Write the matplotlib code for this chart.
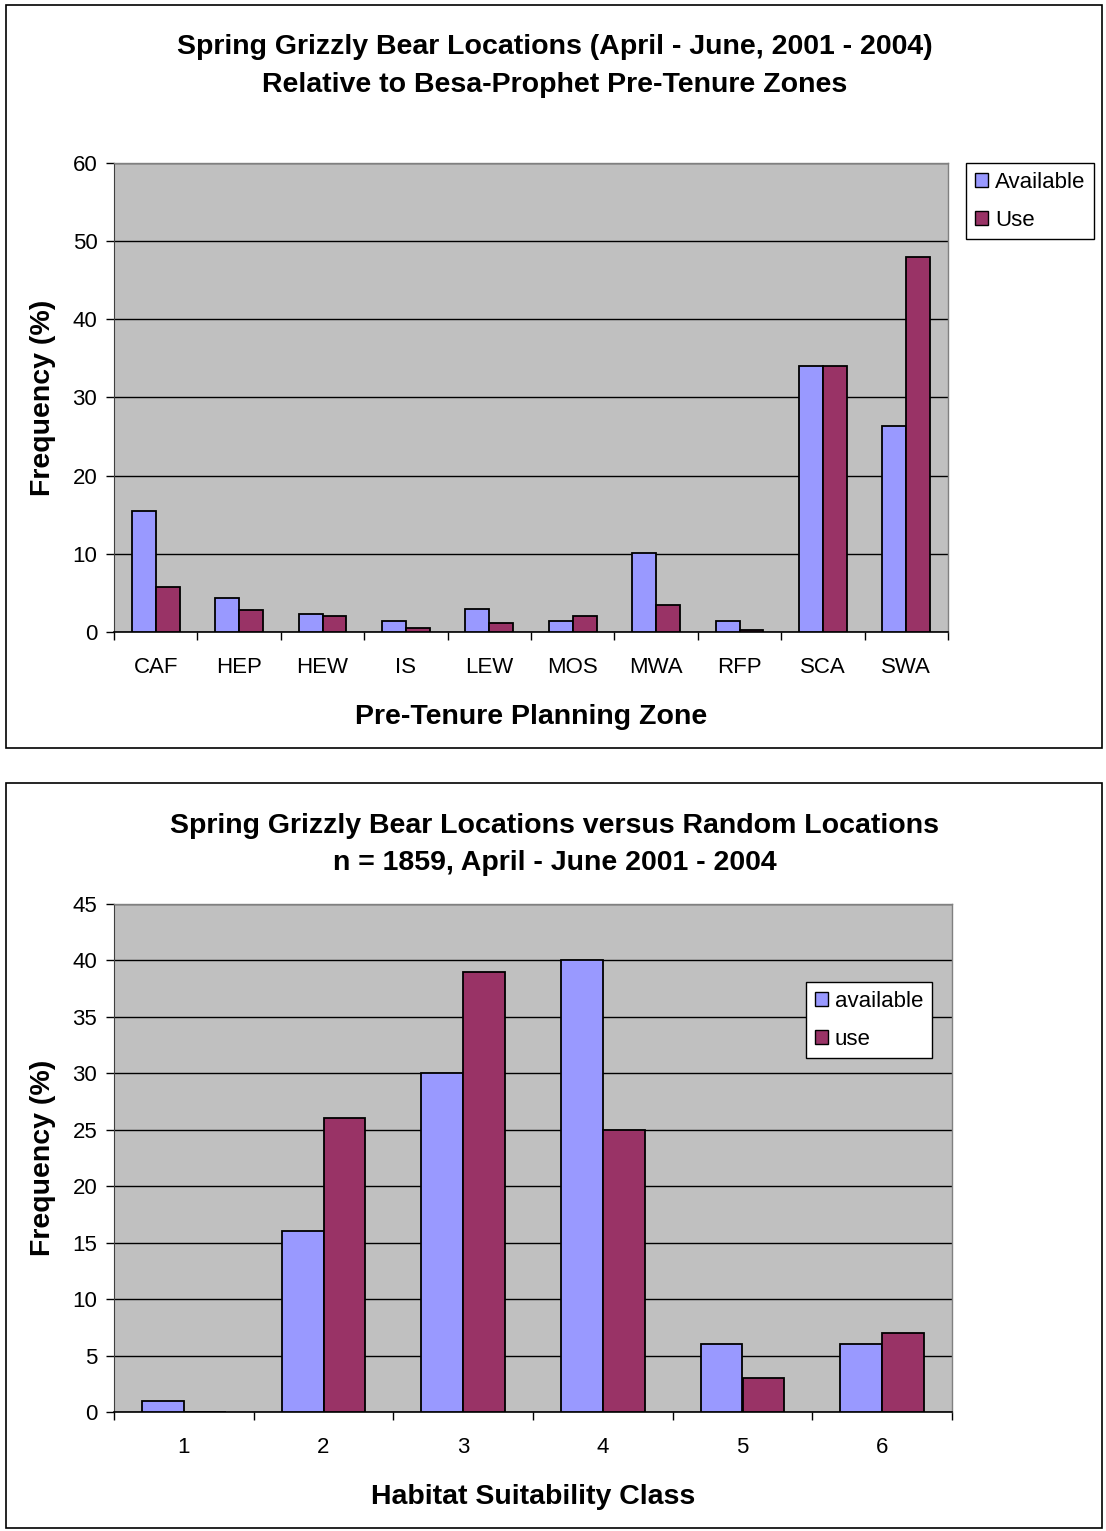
import matplotlib
matplotlib.use("Agg")
import matplotlib.pyplot as plt
from matplotlib.patches import Rectangle
import numpy as np

plt.rcParams['font.family'] = ['Liberation Sans', 'DejaVu Sans']

# Top chart data
zones = ["CAF", "HEP", "HEW", "IS", "LEW", "MOS", "MWA", "RFP", "SCA", "SWA"]
zone_available = [15.5, 4.4, 2.3, 1.4, 3.0, 1.4, 10.1, 1.4, 34.0, 26.4]
zone_use = [5.8, 2.8, 2.1, 0.5, 1.2, 2.0, 3.5, 0.25, 34.0, 48.0]
top_yticks = [0, 10, 20, 30, 40, 50, 60]

# Bottom chart data
classes = ["1", "2", "3", "4", "5", "6"]
class_available = [1, 16, 30, 40, 6, 6]
class_use = [0, 26, 39, 25, 3, 7]
bottom_yticks = [0, 5, 10, 15, 20, 25, 30, 35, 40, 45]

W, H = 1106, 1531
fig = plt.figure(figsize=(W / 100, H / 100), dpi=100)
fig.patch.set_facecolor("white")

C_AV = "#9999FF"
C_USE = "#993366"
BG = "#C0C0C0"


def px_axes(x0, y0, x1, y1):
    return fig.add_axes([x0 / W, 1 - y1 / H, (x1 - x0) / W, (y1 - y0) / H])


def frame(x0, y0, x1, y1):
    fig.patches.append(Rectangle((x0 / W, 1 - y1 / H), (x1 - x0) / W, (y1 - y0) / H,
                                 transform=fig.transFigure, fill=False,
                                 edgecolor="black", lw=1.2, zorder=0))


def draw(ax, cats, av, us, yticks, bw, labels, leg_pos, xlabel, fs_tick=16):
    n = len(cats)
    x = np.arange(n)
    ax.set_facecolor(BG)
    ax.bar(x - bw / 2, av, bw, color=C_AV, edgecolor="black", lw=1.3, label=labels[0], zorder=3)
    ax.bar(x + bw / 2, us, bw, color=C_USE, edgecolor="black", lw=1.3, label=labels[1], zorder=3)
    ax.set_xlim(-0.5, n - 0.5)
    ax.set_ylim(yticks[0], yticks[-1])
    ax.set_yticks(yticks)
    ax.yaxis.grid(True, color="black", lw=1.0, zorder=1)
    ax.set_axisbelow(True)
    ax.set_xticks(np.arange(n + 1) - 0.5)
    ax.set_xticklabels([])
    ax.set_xticks(x, minor=True)
    ax.set_xticklabels(cats, minor=True)
    ax.tick_params(axis="x", which="minor", length=0, pad=18, labelsize=fs_tick)
    ax.tick_params(axis="x", which="major", length=6, width=1, direction="out", color="black")
    ax.tick_params(axis="y", length=6, width=1, direction="out", color="black", labelsize=fs_tick, pad=6)
    for s in ["top", "right"]:
        ax.spines[s].set_color("#808080")
        ax.spines[s].set_linewidth(1.0)
    ax.spines["left"].set_color("#404040")
    ax.spines["bottom"].set_color("black")
    ax.spines["bottom"].set_linewidth(1.2)
    ax.set_ylabel("Frequency (%)", fontsize=20.5, fontweight="bold", labelpad=12)
    ax.set_xlabel(xlabel, fontsize=20.5, fontweight="bold", labelpad=19)
    leg = ax.legend(loc="upper left", bbox_to_anchor=(leg_pos[0] / W, 1 - leg_pos[1] / H),
                    bbox_transform=fig.transFigure, fancybox=False, framealpha=1,
                    edgecolor="black", fontsize=16, handlelength=0.6, handleheight=0.6,
                    handletextpad=0.3, borderaxespad=0, borderpad=0.4, labelspacing=0.75)
    leg.get_frame().set_linewidth(1.0)
    for h in leg.legend_handles:
        h.set_linewidth(1.0)


# Top panel
frame(6, 5, 1102, 748)
ax1 = px_axes(114, 163, 948, 632)
draw(ax1, zones, zone_available, zone_use, top_yticks, 0.2857, ["Available", "Use"],
     (966, 163), "Pre-Tenure Planning Zone")
fig.text(555 / W, 1 - 66 / H, "Spring Grizzly Bear Locations (April - June, 2001 - 2004)\nRelative to Besa-Prophet Pre-Tenure Zones",
         ha="center", va="center", fontsize=20.5, fontweight="bold", linespacing=1.55)

# Bottom panel
frame(6, 783, 1102, 1528)
ax2 = px_axes(114, 904, 952, 1412)
draw(ax2, classes, class_available, class_use, bottom_yticks, 0.3, ["available", "use"],
     (806, 982), "Habitat Suitability Class")
fig.text(555 / W, 1 - 844 / H, "Spring Grizzly Bear Locations versus Random Locations\nn = 1859, April - June 2001 - 2004",
         ha="center", va="center", fontsize=20.5, fontweight="bold", linespacing=1.55)

fig.savefig("out.png", dpi=100, facecolor="white")
